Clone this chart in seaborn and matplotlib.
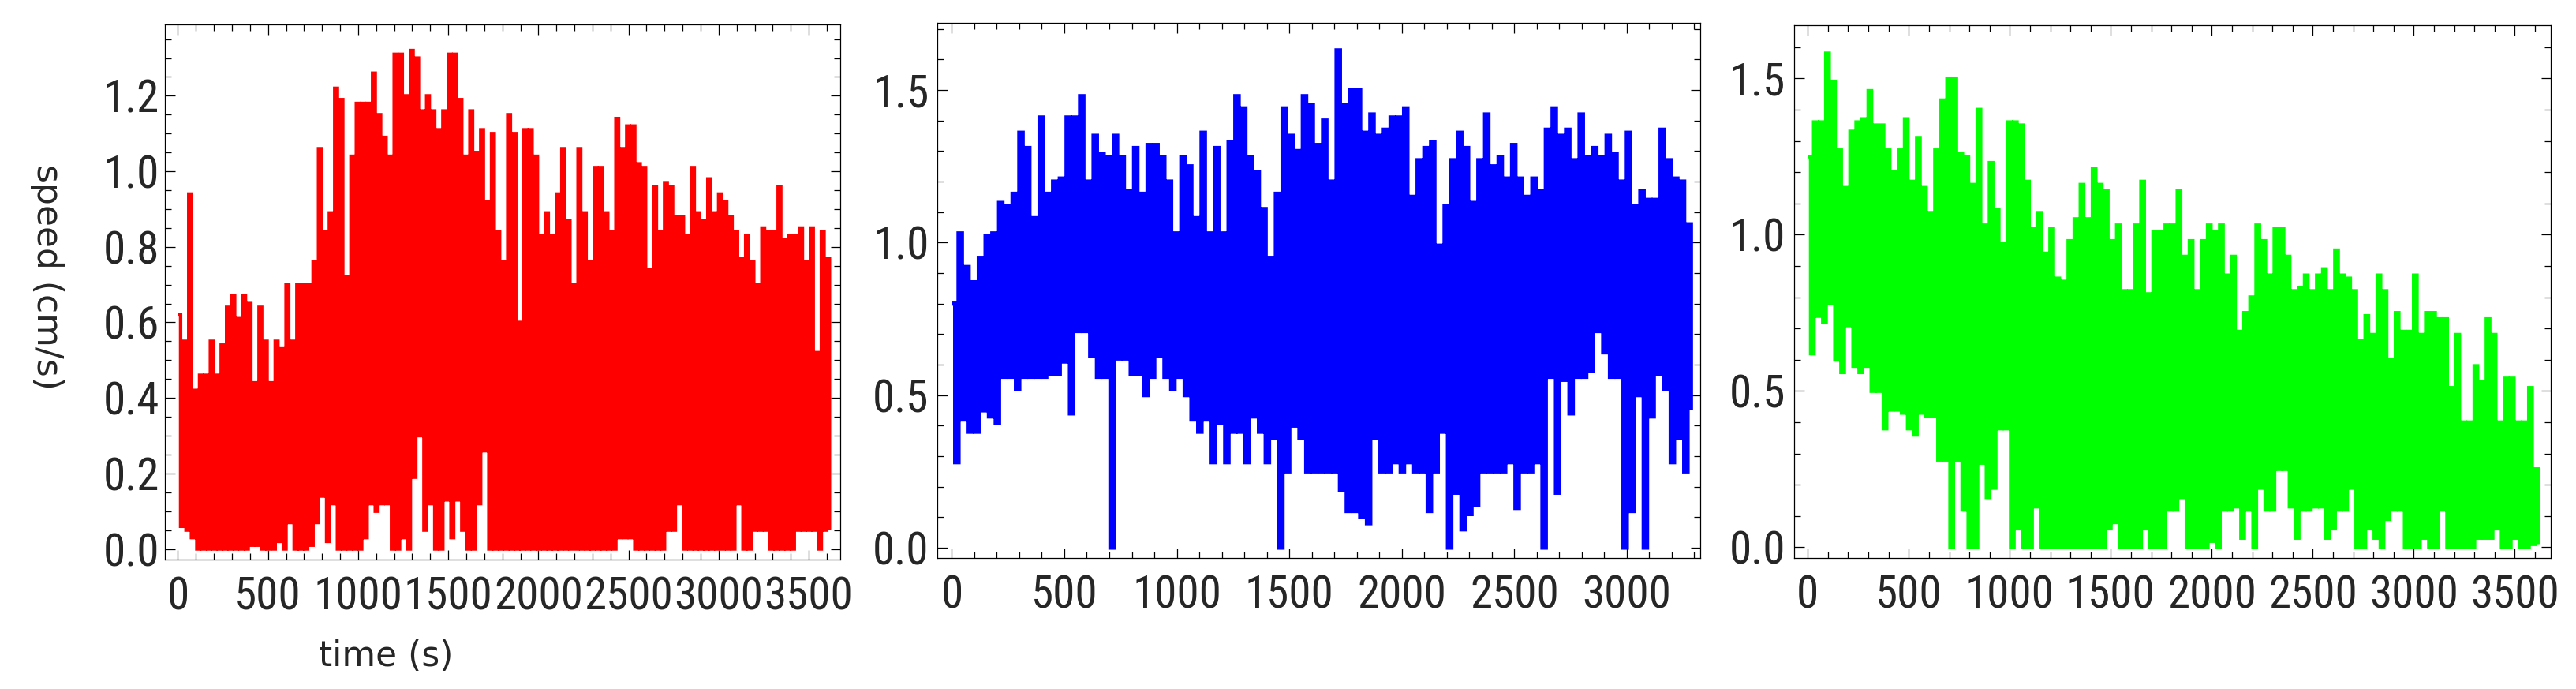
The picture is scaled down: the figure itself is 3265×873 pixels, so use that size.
import numpy as np
import pandas as pd
import matplotlib
matplotlib.use('Agg')
import matplotlib.pyplot as plt
import seaborn as sns
from matplotlib import font_manager
from matplotlib.ticker import MultipleLocator, FormatStrFormatter

# speed samples, one every 15 s (peak, trough, peak, trough ...)
step_s = 15

red_speed = [
    0.62, 0.06, 0.55, 0.05, 0.94, 0.03, 0.42, 0.00, 0.46, 0.00,
    0.46, 0.00, 0.55, 0.00, 0.46, 0.00, 0.54, 0.00, 0.64, 0.00,
    0.67, 0.00, 0.61, 0.00, 0.67, 0.00, 0.65, 0.01, 0.44, 0.01,
    0.64, 0.00, 0.55, 0.00, 0.44, 0.00, 0.55, 0.02, 0.53, 0.00,
    0.70, 0.07, 0.55, 0.00, 0.70, 0.00, 0.70, 0.00, 0.70, 0.01,
    0.76, 0.07, 1.06, 0.14, 0.84, 0.02, 0.89, 0.12, 1.22, 0.00,
    1.19, 0.00, 0.72, 0.00, 1.04, 0.00, 1.18, 0.00, 1.18, 0.03,
    1.18, 0.12, 1.26, 0.10, 1.15, 0.12, 1.09, 0.12, 1.04, 0.00,
    1.31, 0.00, 1.31, 0.03, 1.20, 0.00, 1.32, 0.19, 1.30, 0.30,
    1.16, 0.05, 1.20, 0.12, 1.16, 0.00, 1.11, 0.00, 1.16, 0.13,
    1.31, 0.03, 1.31, 0.13, 1.19, 0.05, 1.04, 0.00, 1.16, 0.00,
    1.05, 0.12, 1.11, 0.26, 0.92, 0.00, 1.10, 0.00, 0.84, 0.00,
    0.76, 0.00, 1.15, 0.00, 1.10, 0.00, 0.60, 0.00, 1.11, 0.00,
    1.11, 0.00, 1.04, 0.00, 0.83, 0.00, 0.89, 0.00, 0.83, 0.00,
    0.94, 0.00, 1.06, 0.00, 0.87, 0.00, 0.70, 0.00, 1.06, 0.00,
    0.89, 0.00, 0.76, 0.00, 1.01, 0.00, 1.01, 0.00, 0.89, 0.00,
    0.84, 0.00, 1.14, 0.03, 1.06, 0.03, 1.12, 0.03, 1.12, 0.00,
    1.02, 0.00, 1.01, 0.00, 0.74, 0.00, 0.96, 0.00, 0.84, 0.00,
    0.97, 0.05, 0.96, 0.05, 0.88, 0.12, 0.88, 0.00, 0.83, 0.00,
    1.01, 0.00, 0.89, 0.00, 0.87, 0.00, 0.98, 0.00, 0.89, 0.00,
    0.94, 0.00, 0.92, 0.00, 0.88, 0.00, 0.84, 0.12, 0.77, 0.00,
    0.83, 0.00, 0.76, 0.05, 0.70, 0.05, 0.85, 0.05, 0.84, 0.00,
    0.84, 0.00, 0.96, 0.00, 0.82, 0.00, 0.83, 0.00, 0.83, 0.05,
    0.85, 0.05, 0.76, 0.05, 0.85, 0.05, 0.52, 0.00, 0.84, 0.05,
    0.77, 0.05,
]

blue_speed = [
    0.80, 0.28, 1.03, 0.42, 0.92, 0.38, 0.87, 0.38, 0.95, 0.45,
    1.02, 0.43, 1.03, 0.41, 1.13, 0.56, 1.12, 0.56, 1.16, 0.52,
    1.36, 0.56, 1.31, 0.56, 1.08, 0.56, 1.41, 0.56, 1.16, 0.57,
    1.20, 0.57, 1.21, 0.61, 1.41, 0.44, 1.41, 0.71, 1.48, 0.71,
    1.20, 0.63, 1.35, 0.56, 1.29, 0.56, 1.28, 0.00, 1.35, 0.62,
    1.28, 0.62, 1.17, 0.57, 1.31, 0.57, 1.16, 0.50, 1.32, 0.56,
    1.32, 0.63, 1.28, 0.56, 1.20, 0.52, 1.03, 0.56, 1.28, 0.50,
    1.25, 0.42, 1.08, 0.38, 1.36, 0.42, 1.03, 0.28, 1.31, 0.41,
    1.03, 0.28, 1.33, 0.38, 1.48, 0.38, 1.44, 0.28, 1.28, 0.43,
    1.23, 0.38, 1.11, 0.28, 0.95, 0.36, 1.16, 0.00, 1.44, 0.25,
    1.35, 0.40, 1.30, 0.36, 1.48, 0.25, 1.45, 0.25, 1.32, 0.25,
    1.40, 0.25, 1.20, 0.25, 1.63, 0.19, 1.45, 0.12, 1.50, 0.12,
    1.50, 0.10, 1.36, 0.08, 1.42, 0.36, 1.35, 0.25, 1.37, 0.25,
    1.41, 0.28, 1.41, 0.25, 1.44, 0.28, 1.15, 0.25, 1.27, 0.25,
    1.31, 0.12, 1.33, 0.25, 0.99, 0.38, 1.12, 0.00, 1.27, 0.18,
    1.36, 0.06, 1.31, 0.11, 1.13, 0.14, 1.27, 0.25, 1.42, 0.25,
    1.25, 0.25, 1.28, 0.25, 1.21, 0.28, 1.32, 0.13, 1.21, 0.25,
    1.15, 0.25, 1.21, 0.28, 1.17, 0.00, 1.37, 0.56, 1.44, 0.18,
    1.35, 0.55, 1.37, 0.44, 1.27, 0.56, 1.42, 0.56, 1.28, 0.58,
    1.31, 0.71, 1.28, 0.64, 1.35, 0.56, 1.29, 0.56, 1.20, 0.00,
    1.36, 0.12, 1.12, 0.50, 1.17, 0.00, 1.14, 0.43, 1.14, 0.57,
    1.37, 0.52, 1.27, 0.28, 1.21, 0.36, 1.20, 0.25, 1.06, 0.45,
]

green_speed = [
    1.25, 0.62, 1.36, 0.74, 1.36, 0.72, 1.58, 0.78, 1.49, 0.60,
    1.27, 0.56, 1.15, 0.71, 1.33, 0.58, 1.36, 0.56, 1.37, 0.58,
    1.46, 0.50, 1.35, 0.50, 1.35, 0.38, 1.27, 0.44, 1.20, 0.44,
    1.27, 0.43, 1.37, 0.38, 1.17, 0.36, 1.31, 0.43, 1.15, 0.42,
    1.07, 0.42, 1.27, 0.28, 1.43, 0.28, 1.50, 0.00, 1.50, 0.28,
    1.26, 0.12, 1.25, 0.00, 1.16, 0.00, 1.40, 0.27, 1.03, 0.16,
    1.23, 0.19, 1.08, 0.38, 0.97, 0.38, 1.36, 0.00, 1.36, 0.06,
    1.35, 0.00, 1.17, 0.00, 1.02, 0.13, 1.07, 0.00, 0.94, 0.00,
    1.02, 0.00, 0.86, 0.00, 0.85, 0.00, 0.98, 0.00, 1.05, 0.00,
    1.16, 0.00, 1.05, 0.00, 1.21, 0.00, 1.16, 0.00, 1.14, 0.06,
    0.98, 0.08, 1.03, 0.00, 0.82, 0.00, 0.82, 0.00, 1.03, 0.00,
    1.17, 0.06, 0.81, 0.00, 1.01, 0.00, 1.01, 0.00, 1.03, 0.12,
    1.03, 0.12, 1.14, 0.16, 0.93, 0.00, 0.98, 0.00, 0.82, 0.00,
    0.98, 0.00, 1.03, 0.02, 1.01, 0.00, 1.03, 0.12, 0.87, 0.12,
    0.93, 0.13, 0.69, 0.03, 0.75, 0.12, 0.80, 0.00, 1.03, 0.19,
    0.98, 0.12, 0.87, 0.12, 1.02, 0.25, 1.02, 0.25, 0.93, 0.13,
    0.82, 0.03, 0.83, 0.12, 0.87, 0.12, 0.82, 0.13, 0.87, 0.13,
    0.89, 0.03, 0.82, 0.06, 0.95, 0.12, 0.87, 0.12, 0.86, 0.19,
    0.82, 0.00, 0.66, 0.00, 0.74, 0.06, 0.68, 0.03, 0.87, 0.00,
    0.82, 0.09, 0.60, 0.12, 0.75, 0.12, 0.69, 0.00, 0.69, 0.00,
    0.87, 0.00, 0.68, 0.03, 0.75, 0.00, 0.75, 0.00, 0.73, 0.12,
    0.73, 0.00, 0.51, 0.00, 0.68, 0.00, 0.40, 0.00, 0.40, 0.00,
    0.58, 0.03, 0.53, 0.03, 0.73, 0.03, 0.68, 0.06, 0.40, 0.00,
    0.54, 0.00, 0.54, 0.03, 0.40, 0.00, 0.40, 0.00, 0.51, 0.01,
    0.25, 0.01,
]

sns.set_style('ticks')
plt.rcParams['font.family'] = ['DejaVu Sans']

# the tick numbers in the picture are a squeezed sans, pick the narrowest one we have
installed = {f.name for f in font_manager.fontManager.ttflist}
tick_family, tick_size = 'DejaVu Sans', 30
for fam, size in [('Roboto Condensed', 41), ('Liberation Sans Narrow', 40),
                  ('DejaVu Sans Condensed', 34)]:
    if fam in installed:
        tick_family, tick_size = fam, size
        break

fig = plt.figure(figsize=(32.66, 8.73), dpi=100)

panels = [
    # values, colour, axes rect, xlim, ylim, y major, y minor, line width, ytick pad
    (red_speed, '#ff0000', [0.0640, 0.1879, 0.2621, 0.7766], (-72, 3675), (-0.028, 1.389), 0.2, 0.05, 3.1, 5),
    (blue_speed, '#0000ff', [0.3637, 0.1901, 0.2961, 0.7766], (-65, 3326), (-0.034, 1.720), 0.5, 0.1, 3.8, 7.5),
    (green_speed, '#00ff00', [0.6963, 0.1907, 0.2936, 0.7726], (-67, 3678), (-0.033, 1.670), 0.5, 0.1, 3.45, 8),
]

axes = []
for vals, col, rect, xl, yl, ymaj, ymin, lw, ypad in panels:
    ax = fig.add_axes(rect)
    df = pd.DataFrame({'time': np.arange(len(vals)) * step_s, 'speed': vals})
    sns.lineplot(data=df, x='time', y='speed', ax=ax, color=col, linewidth=lw,
                 drawstyle='steps-post', estimator=None, sort=False,
                 solid_joinstyle='miter', solid_capstyle='butt', snap=False)
    ax.set_xlim(*xl)
    ax.set_ylim(*yl)
    ax.xaxis.set_major_locator(MultipleLocator(500))
    ax.xaxis.set_minor_locator(MultipleLocator(100))
    ax.yaxis.set_major_locator(MultipleLocator(ymaj))
    ax.yaxis.set_minor_locator(MultipleLocator(ymin))
    ax.yaxis.set_major_formatter(FormatStrFormatter('%.1f'))
    ax.tick_params(which='both', direction='in', top=True, right=True,
                   width=0.9, color='black')
    ax.tick_params(which='major', length=9, labelsize=tick_size,
                   labelfontfamily=tick_family)
    ax.tick_params(which='minor', length=5.5)
    ax.tick_params(axis='x', which='major', pad=15)
    ax.tick_params(axis='y', which='major', pad=ypad)
    for sp in ax.spines.values():
        sp.set_linewidth(0.9)
        sp.set_color('black')
    ax.set_xlabel('')
    ax.set_ylabel('')
    axes.append(ax)

ax = axes[0]
ax.set_xlabel('time (s)', fontsize=31.7, va='center', ha='center')
ax.xaxis.set_label_coords(0.327, -0.181)
ax.set_ylabel('speed (cm/s)', fontsize=31.7, rotation=270, va='center', ha='center')
ax.yaxis.set_label_coords(-0.175, 0.528)

fig.savefig('out.png', dpi=100, facecolor='white')
